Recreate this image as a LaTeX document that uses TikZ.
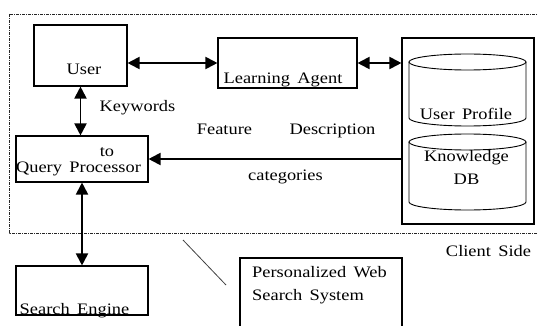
\documentclass[tikz,border=0pt]{standalone}
\usepackage{fontspec}
\setmainfont{Liberation Serif}[FakeStretch=1.15, WordSpace=1.6]
\usetikzlibrary{arrows.meta}

\begin{document}
\begin{tikzpicture}[
  x=1pt, y=-1pt,
  >={Triangle[length=12pt,width=12pt]},
  font=\fontsize{16}{19}\selectfont,
  box/.style={
     draw,
     line width=1.1pt,
     inner sep=0pt
  },
  word/.style={
     inner sep=0pt,
     anchor=base
  },
  link/.style={<->, line width=1.9pt},
  flow/.style={->, line width=1.9pt},
  drum/.style={line width=0.9pt}
]
\useasboundingbox (0,0) rectangle (538,326);
\clip (0,0) rectangle (538,326);

% client side frame
\draw[black!85, line width=0.9pt, dash pattern=on 3pt off 1pt on 1pt off 1pt]
     (9,14) rectangle (560,233);

\node[box, minimum width=93pt,  minimum height=61pt]  (user)   at (80.5,55.5) {};
\node[box, minimum width=139pt, minimum height=50pt]  (learn)  at (287.5,63)  {};
\node[box, minimum width=132pt, minimum height=186pt] (store)  at (468,131)   {};
\node[box, minimum width=132pt, minimum height=46pt]  (query)  at (82,159)    {};
\node[box, minimum width=132pt, minimum height=49pt]  (search) at (82,290.5)  {};
\node[box, minimum width=162pt, minimum height=102pt] (pwss)   at (321,309)   {};

% the two databases
\draw[drum] (409,62) -- (409,118) arc (180:360:58.5pt and 8pt) -- (526,62);
\draw[drum] (467.5,62) ellipse (58.5pt and 8pt);
\draw[drum] (409,142) -- (409,202) arc (180:360:58.5pt and 8pt) -- (526,142);
\draw[drum] (467.5,142) ellipse (58.5pt and 8pt);

% texts
\node[word] (usertxt)   at (84,75)     {User};
\node[word] (learntxt)  at (283,84)    {Learning Agent};
\node[word] (keytxt)    at (137.5,112) {Keywords};
\node[word] (feattxt)   at (224.5,135) {Feature};
\node[word] (desctxt)   at (332.5,135) {Description};
\node[word] (totxt)     at (107,157)   {to};
\node[word] (querytxt)  at (78.5,172)  {Query Processor};
\node[word] (cattxt)    at (285.5,180) {categories};
\node[word] (proftxt)   at (466,120)   {User Profile};
\node[word] (knowtxt)   at (466.5,161) {Knowledge};
\node[word] (dbtxt)     at (466.5,184) {DB};
\node[word] (clienttxt) at (488.5,256) {Client Side};
\node[word] (searchtxt) at (74.5,314)  {Search Engine};
\node[word, anchor=base west] (pwtxt) at (252,277) {Personalized Web};
\node[word, anchor=base west] (sstxt) at (252,300) {Search System};

% connectors
\draw[link] (learn.west -| user.east) -- (learn.west);
\draw[link] (learn.east) -- (learn.east -| store.west);
\draw[link] (user.south) -- (user.south |- query.north);
\draw[flow] (query.east -| store.west) -- (query.east);
\draw[link] (query.south) -- (search.north);

\coordinate (tickA) at (183,240);
\coordinate (tickB) at (226,285);
\draw[black!75, line width=0.8pt] (tickA) -- (tickB);

\end{tikzpicture}
\end{document}
